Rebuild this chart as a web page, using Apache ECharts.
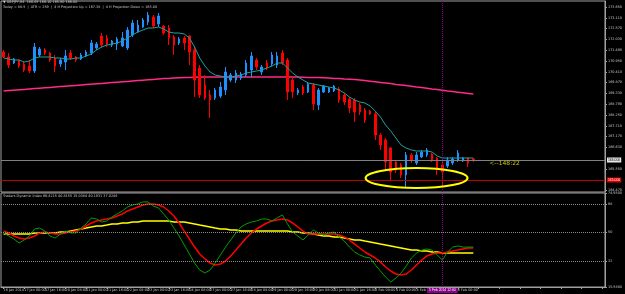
<!DOCTYPE html>
<html>
<head>
<meta charset="utf-8">
<script src="https://cdn.jsdelivr.net/npm/echarts@6/dist/echarts.min.js"></script>
<style>
html, body { margin: 0; padding: 0; background: #000; }
#chart { width: 625px; height: 294px; }
</style>
</head>
<body>
<div id="chart"></div>
<script>
// GBPJPY H4 bars
var opens = [171.40, 171.15, 170.85, 171.00, 170.80, 170.70, 170.45, 171.25, 171.50, 171.35,
    171.10, 170.80, 170.90, 171.35, 171.15, 171.05, 171.20, 171.35, 171.60, 172.20,
    172.10, 171.75, 171.80, 171.70, 171.60, 172.25, 172.40, 172.65, 172.90, 173.15,
    172.80, 172.70, 172.60, 172.15, 171.85, 172.10, 172.20, 171.50, 170.60, 169.75,
    169.25, 169.10, 169.20, 169.50, 170.00, 170.00, 170.10, 170.25, 170.50, 171.00,
    170.40, 170.85, 170.80, 170.75, 171.35, 171.00, 170.00, 169.35, 169.65, 169.40,
    169.75, 168.75, 169.40, 169.40, 169.45, 169.55, 169.25, 169.05, 169.00, 168.75,
    168.50, 168.45, 168.30, 167.25, 167.00, 166.60, 165.90, 165.75, 165.25, 166.25,
    165.85, 166.15, 166.25, 166.30, 166.10, 165.75, 165.70, 165.85, 166.00, 165.95,
    166.10, 166.05];
var closes = [171.15, 170.75, 171.05, 170.70, 170.50, 170.45, 171.65, 171.55, 171.35, 171.00,
    170.70, 171.00, 171.20, 171.10, 171.00, 171.25, 171.40, 171.85, 171.80, 171.75,
    171.80, 171.95, 172.05, 172.10, 172.50, 172.85, 172.75, 173.00, 173.25, 172.70,
    173.20, 172.35, 172.10, 171.75, 172.05, 171.85, 171.40, 170.00, 169.25, 169.10,
    169.00, 169.50, 169.65, 170.40, 170.25, 170.35, 170.30, 170.85, 171.20, 170.65,
    170.65, 170.60, 171.25, 171.20, 170.85, 169.40, 169.40, 169.50, 169.35, 169.80,
    168.80, 169.50, 169.70, 169.60, 169.70, 169.00, 168.90, 168.60, 168.40, 168.40,
    168.00, 168.30, 167.25, 166.75, 165.90, 165.40, 165.50, 165.25, 166.25, 166.00,
    166.25, 166.40, 166.50, 166.00, 165.60, 165.40, 166.00, 166.05, 166.35, 166.10,
    165.85, 166.00];
var lows = [171.10, 170.60, 170.80, 170.60, 170.40, 170.35, 170.35, 171.15, 171.25, 170.90,
    170.40, 170.65, 170.50, 171.00, 170.90, 171.00, 171.15, 171.25, 171.50, 171.60,
    171.65, 171.65, 171.50, 171.65, 171.50, 172.15, 172.35, 172.60, 172.75, 172.60,
    172.65, 172.25, 171.75, 171.25, 171.75, 171.50, 170.75, 169.15, 169.10, 169.00,
    168.10, 169.00, 169.10, 169.25, 169.90, 169.85, 170.00, 170.15, 170.15, 170.50,
    170.25, 170.50, 170.70, 170.60, 170.75, 169.00, 169.10, 169.25, 169.25, 169.35,
    168.50, 168.50, 169.35, 169.35, 169.40, 168.85, 168.75, 168.35, 167.90, 168.25,
    167.85, 168.25, 167.00, 166.50, 165.50, 165.00, 165.35, 165.10, 164.60, 165.85,
    165.75, 166.10, 166.15, 165.90, 165.25, 164.70, 165.60, 165.75, 165.90, 165.90,
    165.65, 165.90];
var highs = [171.50, 171.35, 171.10, 171.00, 170.90, 171.00, 171.85, 171.65, 171.60, 171.40,
    171.25, 171.10, 171.50, 171.50, 171.20, 171.35, 171.50, 172.00, 171.90, 172.35,
    172.25, 172.00, 172.15, 172.40, 172.65, 173.00, 173.00, 173.10, 173.40, 173.25,
    173.35, 172.75, 172.75, 172.25, 172.15, 172.20, 172.25, 171.65, 170.75, 170.25,
    169.50, 169.60, 169.90, 170.65, 170.35, 170.50, 170.40, 171.00, 171.40, 171.10,
    170.75, 171.00, 171.40, 171.40, 171.50, 171.10, 170.15, 169.60, 169.75, 169.90,
    169.85, 169.60, 169.75, 169.65, 169.75, 169.65, 169.35, 169.15, 169.10, 168.85,
    168.60, 168.50, 168.40, 167.35, 167.10, 166.65, 166.00, 165.85, 166.40, 166.35,
    166.40, 166.50, 166.60, 166.35, 166.15, 165.90, 166.15, 166.15, 166.50, 166.15,
    166.15, 166.10];

// moving averages on the price window
var fastMA = [171.10, 171.05, 171.00, 171.00, 170.90, 170.95, 171.10, 171.15, 171.15, 171.15,
    171.10, 171.10, 171.05, 171.05, 171.10, 171.10, 171.20, 171.30, 171.50, 171.65,
    171.75, 171.80, 171.85, 171.95, 172.10, 172.25, 172.40, 172.50, 172.60, 172.60,
    172.65, 172.55, 172.40, 172.35, 172.35, 172.30, 172.10, 171.65, 171.10, 170.70,
    170.40, 170.25, 170.20, 170.15, 170.15, 170.20, 170.25, 170.35, 170.40, 170.45,
    170.50, 170.60, 170.70, 170.85, 170.85, 170.60, 170.35, 170.15, 170.00, 169.85,
    169.80, 169.75, 169.70, 169.65, 169.60, 169.50, 169.35, 169.15, 169.00, 168.90,
    168.85, 168.70, 168.45, 168.15, 167.75, 167.45, 167.10, 166.75, 166.60, 166.50,
    166.45, 166.45, 166.45, 166.40, 166.20, 166.10, 166.10, 166.10, 166.10, 166.10,
    166.10, 166.10];
var slowMA = [169.45, 169.47, 169.49, 169.51, 169.53, 169.55, 169.57, 169.59, 169.61, 169.63,
    169.65, 169.67, 169.69, 169.71, 169.73, 169.75, 169.77, 169.79, 169.81, 169.83,
    169.85, 169.87, 169.89, 169.91, 169.93, 169.95, 169.97, 169.99, 170.01, 170.03,
    170.05, 170.07, 170.08, 170.10, 170.11, 170.12, 170.13, 170.14, 170.15, 170.15,
    170.15, 170.15, 170.15, 170.15, 170.15, 170.15, 170.15, 170.15, 170.15, 170.15,
    170.15, 170.15, 170.15, 170.15, 170.15, 170.15, 170.15, 170.15, 170.14, 170.13,
    170.12, 170.12, 170.11, 170.10, 170.08, 170.07, 170.05, 170.04, 170.02, 170.00,
    169.97, 169.94, 169.91, 169.88, 169.85, 169.82, 169.78, 169.75, 169.72, 169.69,
    169.65, 169.62, 169.59, 169.55, 169.52, 169.49, 169.45, 169.42, 169.39, 169.36,
    169.33, 169.30];

// Traders Dynamic Index
var tdiRsi = [49.7, 47.8, 45.9, 43.4, 45.3, 47.8, 52.2, 52.8, 50.9, 47.8,
    46.5, 49.0, 50.9, 49.7, 49.7, 52.8, 55.4, 59.2, 58.5, 56.6,
    57.3, 59.8, 61.7, 63.6, 66.1, 67.4, 68.0, 69.3, 69.3, 66.7,
    65.5, 61.7, 57.9, 52.8, 47.8, 42.1, 36.4, 30.7, 26.3, 24.4,
    26.3, 30.7, 35.8, 40.8, 45.3, 49.7, 53.5, 55.4, 56.6, 57.3,
    58.5, 58.5, 57.3, 59.2, 61.1, 55.4, 50.3, 47.8, 45.3, 48.4,
    51.6, 49.7, 48.4, 49.7, 50.3, 47.2, 44.6, 40.8, 37.7, 35.8,
    34.5, 33.9, 29.5, 25.7, 21.9, 18.7, 21.3, 24.4, 28.8, 33.9,
    37.0, 38.9, 39.6, 38.9, 35.8, 32.6, 37.7, 40.8, 41.5, 40.8,
    40.8, 40.8];
var tdiSignal = [50.9, 49.7, 47.8, 46.5, 45.9, 46.5, 47.8, 49.7, 50.3, 49.7,
    49.0, 49.0, 49.7, 50.3, 50.9, 52.2, 54.1, 56.0, 57.3, 57.9,
    58.5, 59.2, 60.4, 61.7, 63.6, 64.8, 66.1, 67.4, 68.0, 68.0,
    67.4, 66.1, 63.6, 60.4, 56.0, 50.9, 45.9, 40.8, 36.4, 33.3,
    30.7, 29.5, 30.1, 32.0, 35.2, 38.9, 42.7, 46.5, 49.7, 52.2,
    54.1, 56.0, 57.3, 57.9, 58.5, 57.9, 56.0, 53.5, 50.9, 49.0,
    49.0, 49.0, 49.0, 49.0, 49.0, 48.4, 47.2, 45.3, 42.7, 40.2,
    37.7, 35.8, 33.9, 31.4, 28.2, 25.7, 23.8, 23.1, 23.8, 26.3,
    29.5, 32.6, 35.2, 36.4, 37.0, 37.0, 37.7, 38.3, 38.9, 39.6,
    40.2, 40.2];
var tdiBase = [49.0, 49.0, 49.0, 49.0, 49.0, 49.0, 49.7, 49.7, 49.7, 49.7,
    49.7, 50.3, 50.3, 50.9, 51.6, 52.2, 52.8, 53.5, 54.1, 54.1,
    54.7, 55.4, 55.4, 56.0, 56.0, 56.6, 56.6, 57.3, 57.3, 57.3,
    57.3, 57.3, 57.3, 56.6, 56.6, 56.6, 56.0, 55.4, 54.7, 54.1,
    53.5, 52.8, 52.2, 52.2, 51.6, 51.6, 50.9, 50.9, 50.9, 50.9,
    50.9, 50.9, 50.9, 50.9, 50.9, 50.9, 50.3, 50.3, 49.7, 49.7,
    49.0, 48.4, 47.8, 47.8, 47.2, 47.2, 46.5, 45.9, 45.3, 45.3,
    44.6, 44.0, 43.4, 42.7, 42.1, 41.5, 40.8, 40.2, 39.6, 38.9,
    38.9, 38.3, 38.3, 37.7, 37.7, 37.0, 37.0, 37.0, 37.0, 37.0,
    37.0, 37.0];

// one time label every 4 bars
var timeLabels = ['16 Jan 2014', '17 Jan 00:00', '17 Jan 16:00', '20 Jan 08:00', '21 Jan 00:00',
    '21 Jan 16:00', '22 Jan 08:00', '23 Jan 00:00', '23 Jan 16:00', '24 Jan 08:00',
    '27 Jan 00:00', '27 Jan 16:00', '28 Jan 08:00', '29 Jan 00:00', '29 Jan 16:00',
    '30 Jan 08:00', '31 Jan 00:00', '31 Jan 16:00', '3 Feb 08:00', '4 Feb 00:00',
    '4 Feb 16:00', '5 Feb 08:00', '6 Feb 00:00'];
var priceTicks = [173.65, 173.11, 172.57, 172.03, 171.49, 170.95, 170.41, 169.87, 169.33,
    168.79, 168.25, 167.71, 167.17, 166.63, 165.55, 164.47];
var priceRange = [164.40, 173.95];
var tdiLevels = [32, 50, 68];
var tdiRange = [15.58, 74.95];
var bidPrice = 166.00;
var projDown = 165.00;
var cursorBar = 85;
var cursorTime = '5 Feb 2014 12:00';
var countdown = '<--148:22';
var ringCenter = [80.3, 165.10];
var totalSlots = 117;

var cats = [];
for (var i = 0; i < totalSlots; i++) cats.push(String(i));

var candles = opens.map(function (o, i) {
    return [o, closes[i], lows[i], highs[i]];
});

var tiny = { color: '#c8c8c8', fontSize: 3.4, fontFamily: 'DejaVu Sans', fontWeight: 'normal' };

var chart = echarts.init(document.getElementById('chart'));

var option = {
    backgroundColor: '#000',
    animation: false,
    title: [
        { text: '\u25BC GBPJPY,H4  166.05 166.10 165.90 166.00', left: 3, top: 1, padding: 0, textStyle: tiny },
        { text: 'Today = 88.5  |  ATR = 259  |  4 H Projection Up = 167.38  |  4 H Projection Down = 165.00', left: 3, top: 6, padding: 0, textStyle: tiny },
        { text: 'Traders Dynamic Index 66.4215 40.8155 15.0384 40.1931 37.0248', left: 3, top: 195, padding: 0, textStyle: tiny }
    ],
    grid: [
        { left: 1, top: 1, width: 609, height: 191, show: true, borderColor: '#a0a0a0', borderWidth: 1 },
        { left: 1, top: 193, width: 609, height: 94, show: true, borderColor: '#a0a0a0', borderWidth: 1 }
    ],
    xAxis: [
        {
            type: 'category', gridIndex: 0, data: cats,
            axisLine: { show: false }, axisTick: { show: false }, axisLabel: { show: false }, splitLine: { show: false }
        },
        {
            type: 'category', gridIndex: 1, data: cats,
            axisLine: { show: true, lineStyle: { color: '#a0a0a0' } },
            axisTick: { show: true, interval: 3, alignWithLabel: true, length: 2, lineStyle: { color: '#a0a0a0' } },
            axisLabel: {
                interval: 3, margin: 2, align: 'left', color: '#c8c8c8', fontSize: 3.4, fontFamily: 'DejaVu Sans',
                formatter: function (v, idx) {
                    return (idx % 4 === 0 && timeLabels[idx / 4]) ? timeLabels[idx / 4] : '';
                }
            },
            splitLine: { show: false }
        }
    ],
    yAxis: [
        {
            type: 'value', gridIndex: 0, position: 'right', min: priceRange[0], max: priceRange[1],
            axisLine: { show: true, lineStyle: { color: '#a0a0a0' } },
            axisTick: { show: true, length: 2, customValues: priceTicks, lineStyle: { color: '#a0a0a0' } },
            axisLabel: {
                customValues: priceTicks, margin: 3, color: '#c8c8c8', fontSize: 3.4, fontFamily: 'DejaVu Sans',
                formatter: function (v) { return v.toFixed(3); }
            },
            splitLine: { show: false }
        },
        {
            type: 'value', gridIndex: 1, position: 'right', min: tdiRange[0], max: tdiRange[1],
            axisLine: { show: true, lineStyle: { color: '#a0a0a0' } },
            axisTick: { show: true, length: 2, customValues: [tdiRange[0]].concat(tdiLevels, [tdiRange[1]]), lineStyle: { color: '#a0a0a0' } },
            axisLabel: {
                customValues: [tdiRange[0]].concat(tdiLevels, [tdiRange[1]]),
                margin: 3, color: '#c8c8c8', fontSize: 3.4, fontFamily: 'DejaVu Sans',
                formatter: function (v) { return tdiLevels.indexOf(v) >= 0 ? String(v) : v.toFixed(4); }
            },
            splitLine: { show: false }
        }
    ],
    series: [
        {
            name: 'slowMA', type: 'line', xAxisIndex: 0, yAxisIndex: 0, data: slowMA,
            symbol: 'none', lineStyle: { color: '#ff2a8a', width: 1.5 }, z: 2
        },
        {
            name: 'GBPJPY', type: 'candlestick', xAxisIndex: 0, yAxisIndex: 0, data: candles,
            barWidth: 2,
            itemStyle: { color: '#1e90ff', color0: '#ff0000', borderColor: '#1e90ff', borderColor0: '#ff0000', borderWidth: 1 },
            z: 3,
            markLine: {
                silent: true, symbol: 'none', animation: false,
                data: [
                    {
                        yAxis: bidPrice, lineStyle: { color: '#808080', width: 1, type: 'solid' },
                        label: { show: true, position: 'end', distance: 2, formatter: bidPrice.toFixed(3), color: '#000', backgroundColor: '#e8e8e8', fontSize: 3.4, padding: [1, 1] }
                    },
                    {
                        yAxis: projDown, lineStyle: { color: '#c00000', width: 1, type: 'solid' },
                        label: { show: true, position: 'end', distance: 2, formatter: projDown.toFixed(3), color: '#fff', backgroundColor: '#e00000', fontSize: 3.4, padding: [1, 1] }
                    },
                    {
                        xAxis: cursorBar, lineStyle: { color: '#8b008b', width: 1, type: 'dotted' },
                        label: { show: false }
                    }
                ]
            },
            markPoint: {
                silent: true, symbol: 'circle', symbolSize: 0,
                data: [{ coord: [opens.length - 1, bidPrice] }],
                label: { show: true, position: 'right', distance: 16, offset: [0, 3], formatter: countdown, color: '#c8c800', fontSize: 6, fontFamily: 'DejaVu Sans' }
            }
        },
        {
            name: 'fastMA', type: 'line', xAxisIndex: 0, yAxisIndex: 0, data: fastMA,
            symbol: 'none', lineStyle: { color: '#20a0a0', width: 1 }, z: 4
        },
        {
            name: 'Base', type: 'line', xAxisIndex: 1, yAxisIndex: 1, data: tdiBase,
            symbol: 'none', lineStyle: { color: '#ffff00', width: 1.5 }, z: 2,
            markLine: {
                silent: true, symbol: 'none', animation: false,
                data: tdiLevels.map(function (lv) {
                    return { yAxis: lv, lineStyle: { color: '#8a8a8a', width: 1, type: 'dotted' }, label: { show: false } };
                }).concat([{
                    xAxis: cursorBar, lineStyle: { color: '#8b008b', width: 1, type: 'dotted' },
                    label: { show: true, position: 'start', distance: 1, formatter: cursorTime, color: '#fff', backgroundColor: '#8b008b', fontSize: 3.4, padding: [1, 2] }
                }])
            }
        },
        {
            name: 'Signal', type: 'line', xAxisIndex: 1, yAxisIndex: 1, data: tdiSignal,
            symbol: 'none', lineStyle: { color: '#ff0000', width: 1.5 }, z: 3
        },
        {
            name: 'RSI', type: 'line', xAxisIndex: 1, yAxisIndex: 1, data: tdiRsi,
            symbol: 'none', lineStyle: { color: '#00a000', width: 1 }, z: 4
        }
    ]
};

chart.setOption(option);

// yellow ring drawn around the double bottom
var c = chart.convertToPixel({ gridIndex: 0 }, ringCenter);
chart.setOption({
    graphic: [{
        type: 'ellipse', silent: true, z: 10,
        shape: { cx: c[0], cy: c[1], rx: 51, ry: 10 },
        style: { fill: 'none', stroke: '#ffff00', lineWidth: 2 }
    }]
});
</script>
</body>
</html>
